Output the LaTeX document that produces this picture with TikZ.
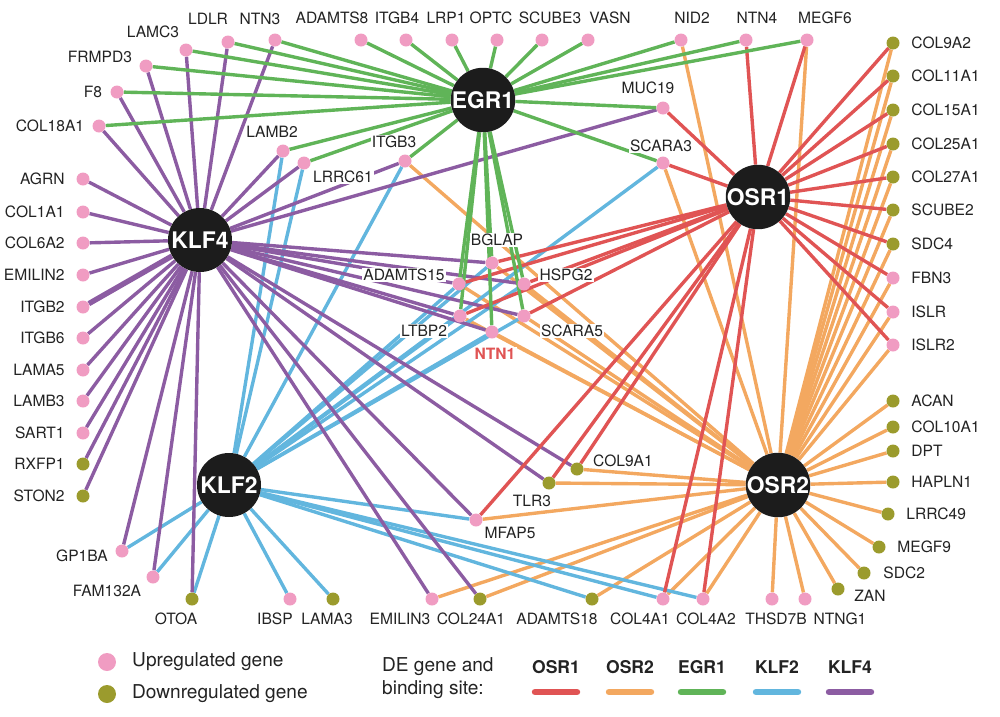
\documentclass[tikz,border=0pt]{standalone}
\usepackage{fontspec}
\setmainfont{TeX Gyre Heros}
\usetikzlibrary{backgrounds}

\definecolor{upcol}{RGB}{240,156,194}
\definecolor{downcol}{RGB}{155,155,45}
\definecolor{hubcol}{RGB}{28,28,28}
\definecolor{labcol}{RGB}{35,35,35}
\definecolor{osr1c}{RGB}{224,84,84}
\definecolor{osr2c}{RGB}{243,168,96}
\definecolor{egr1c}{RGB}{96,180,88}
\definecolor{klf2c}{RGB}{98,182,222}
\definecolor{klf4c}{RGB}{140,92,162}

% gene dot with its label: style, name, dot, label anchor, label position
\newcommand{\gene}[5]{%
  \node[#1] (#2) at (#3) {};
  \node[glab, anchor=#4] (#2-l) at (#5) {#2};}

\begin{document}
\begin{tikzpicture}[x=0.03cm, y=-0.03cm,
  every node/.style={font=\fontsize{13.3}{15}\selectfont},
  up/.style={circle, fill=upcol, minimum size=0.39cm, inner sep=0pt},
  down/.style={circle, fill=downcol, minimum size=0.39cm, inner sep=0pt},
  hub/.style={circle, fill=hubcol, minimum size=1.92cm, inner sep=0pt, text=white, font=\fontsize{19.5}{21}\selectfont\bfseries},
  glab/.style={fill=white, inner sep=1pt, text=labcol},
  keyhead/.style={text=labcol, font=\fontsize{15}{17}\selectfont\bfseries},
  osr1e/.style={draw=osr1c, line width=2.9pt},
  osr2e/.style={draw=osr2c, line width=2.9pt},
  egr1e/.style={draw=egr1c, line width=2.9pt},
  klf2e/.style={draw=klf2c, line width=2.9pt},
  klf4e/.style={draw=klf4c, line width=2.9pt}]
\useasboundingbox (0,0) rectangle (1000,716);

% hubs
\node[hub] (EGR1) at (483,100) {EGR1};
\node[hub] (KLF4) at (200,240) {KLF4};
\node[hub] (OSR1) at (758,197) {OSR1};
\node[hub] (KLF2) at (229,485) {KLF2};
\node[hub] (OSR2) at (778,485) {OSR2};

% top left
\gene{up}{LAMC3}{186,50}{center}{153,32}
\gene{up}{LDLR}{228,42}{center}{208,19}
\gene{up}{NTN3}{275,40}{center}{260,19}
\gene{up}{FRMPD3}{146,66}{center}{100,57}
\gene{up}{F8}{117,92}{center}{93,92}
\gene{up}{COL18A1}{99,126}{center}{50,126}
\gene{up}{LAMB2}{283,151}{center}{272,132}
\gene{up}{LRRC61}{304,163}{center}{343,177}
\gene{up}{ITGB3}{405,161}{center}{394,142}

% top row
\gene{up}{ADAMTS8}{361,40}{center}{332,18}
\gene{up}{ITGB4}{406,40}{center}{397,18}
\gene{up}{LRP1}{452,40}{center}{446,18}
\gene{up}{OPTC}{497,40}{center}{491,18}
\gene{up}{SCUBE3}{542,40}{center}{550,18}
\gene{up}{VASN}{588,40}{center}{610,18}
\gene{up}{NID2}{681,40}{center}{692,18}
\gene{up}{NTN4}{746,40}{center}{757,18}
\gene{up}{MEGF6}{807,40}{center}{825,18}
\gene{up}{MUC19}{663,108}{center}{648,88}
\gene{up}{SCARA3}{663,163}{center}{661,146}

% left column
\foreach \g/\t/\y in {AGRN/up/179, COL1A1/up/212, COL6A2/up/243, EMILIN2/up/275,
    ITGB2/up/307, ITGB6/up/338, LAMA5/up/370, LAMB3/up/401, SART1/up/433,
    RXFP1/down/464, STON2/down/496}
  {\gene{\t}{\g}{83,\y}{east}{66,\y}}

% right column
\foreach \g/\t/\y in {COL9A2/down/43, COL11A1/down/76, COL15A1/down/110,
    COL25A1/down/144, COL27A1/down/177, SCUBE2/down/210, SDC4/down/244,
    FBN3/up/278, ISLR/up/312, ISLR2/up/345, ACAN/down/401, COL10A1/down/427,
    DPT/down/451, HAPLN1/down/482}
  {\gene{\t}{\g}{893,\y}{west}{910,\y}}
\gene{down}{LRRC49}{888,514}{west}{905,514}
\gene{down}{MEGF9}{879,547}{west}{896,547}
\gene{down}{SDC2}{864,573}{west}{882,573}
\gene{down}{ZAN}{838,589}{west}{853,596}

% bottom
\gene{up}{GP1BA}{122,551}{center}{82,556}
\gene{up}{FAM132A}{153,577}{center}{107,591}
\gene{down}{OTOA}{192,599}{center}{176,619}
\gene{up}{IBSP}{290,599}{center}{275,619}
\gene{down}{LAMA3}{333,599}{center}{327,619}
\gene{up}{EMILIN3}{432,599}{center}{400,619}
\gene{down}{COL24A1}{480,599}{center}{471,619}
\gene{down}{ADAMTS18}{592,599}{center}{557,619}
\gene{up}{COL4A1}{663,599}{center}{640,619}
\gene{up}{COL4A2}{703,599}{center}{706,619}
\gene{up}{THSD7B}{772,599}{center}{776,619}
\gene{up}{NTNG1}{805,599}{center}{840,619}

% centre
\gene{up}{BGLAP}{492,263}{center}{497,240}
\gene{up}{ADAMTS15}{459,284}{center}{404,275}
\gene{up}{HSPG2}{524,284}{center}{566,275}
\gene{up}{LTBP2}{460,316}{center}{424,331}
\gene{up}{SCARA5}{524,316}{center}{572,331}
\node[up] (NTN1) at (492,332) {};
\node[glab, text=osr1c, font=\fontsize{13.3}{15}\selectfont\bfseries] (NTN1-l) at (495,354) {NTN1};
\gene{down}{COL9A1}{577,469}{center}{623,461}
\gene{down}{TLR3}{549,483}{center}{532,501}
\gene{up}{MFAP5}{476,520}{center}{510,533}

% binding sites
\begin{scope}[on background layer]
  \foreach \g in {NID2,MEGF6,SCARA3,ITGB3,COL9A2,COL11A1,COL15A1,COL25A1,COL27A1,
      SCUBE2,SDC4,FBN3,ISLR,ISLR2,ACAN,COL10A1,DPT,HAPLN1,LRRC49,MEGF9,SDC2,ZAN,
      NTNG1,THSD7B,COL4A2,COL4A1,ADAMTS18,COL24A1,EMILIN3,MFAP5,TLR3,COL9A1,
      BGLAP,ADAMTS15,HSPG2,LTBP2,SCARA5,NTN1}
    \draw[osr2e] (OSR2) -- (\g);
  \foreach \g in {LAMB2,LRRC61,ITGB3,SCARA3,BGLAP,ADAMTS15,HSPG2,LTBP2,SCARA5,NTN1,
      GP1BA,FAM132A,OTOA,IBSP,LAMA3,MFAP5,ADAMTS18,COL4A1,COL4A2}
    \draw[klf2e] (KLF2) -- (\g);
  \foreach \g in {LAMC3,LDLR,NTN3,FRMPD3,F8,COL18A1,AGRN,COL1A1,COL6A2,EMILIN2,
      ITGB6,LAMA5,LAMB3,SART1,RXFP1,STON2,GP1BA,FAM132A,OTOA,LAMB2,LRRC61,ITGB3,
      MUC19,BGLAP,ADAMTS15,HSPG2,LTBP2,SCARA5,NTN1,COL9A1,TLR3,MFAP5,EMILIN3,COL24A1}
    \draw[klf4e] (KLF4) -- (\g);
  \draw[klf4e, line width=4.6pt] (KLF4) -- (ITGB2);
  \foreach \g in {NTN4,MEGF6,MUC19,SCARA3,COL9A2,COL11A1,COL15A1,COL25A1,COL27A1,
      SCUBE2,SDC4,FBN3,ISLR,ISLR2,BGLAP,ADAMTS15,HSPG2,LTBP2,SCARA5,COL9A1,TLR3,
      MFAP5,COL4A1,COL4A2}
    \draw[osr1e] (OSR1) -- (\g);
  \foreach \g in {LAMC3,LDLR,NTN3,FRMPD3,F8,COL18A1,LAMB2,LRRC61,ITGB3,ADAMTS8,
      ITGB4,LRP1,OPTC,SCUBE3,VASN,NID2,NTN4,MEGF6,MUC19,SCARA3,BGLAP,ADAMTS15,
      HSPG2,LTBP2,SCARA5,NTN1}
    \draw[egr1e] (EGR1) -- (\g);
\end{scope}

% legend
\node[up, minimum size=0.54cm] (upkey) at (107,662) {};
\node[anchor=west, text=labcol, font=\fontsize{16.3}{19}\selectfont] (upkey-l) at (128,662) {Upregulated gene};
\node[down, minimum size=0.54cm] (downkey) at (107,694) {};
\node[anchor=west, text=labcol, font=\fontsize{16.3}{19}\selectfont] (downkey-l) at (128,694) {Downregulated gene};
\node[anchor=west, align=left, text=labcol, font=\fontsize{16.3}{19.5}\selectfont] (bindkey) at (378,678) {DE gene and\\binding site:};
\foreach \h/\c/\x in {OSR1/osr1c/556, OSR2/osr2c/630, EGR1/egr1c/702, KLF2/klf2c/777, KLF4/klf4c/850}
{
  \node[keyhead] (key\h) at (\x,667) {\h};
  \draw[\c, line width=5.5pt, line cap=round] (\x-21,692) -- (\x+21,692);
}
\end{tikzpicture}
\end{document}
